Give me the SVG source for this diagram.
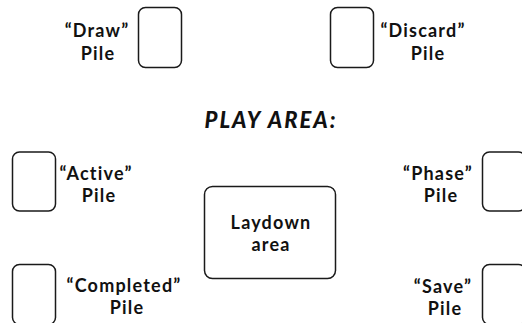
<svg xmlns="http://www.w3.org/2000/svg" width="522" height="323" viewBox="0 0 522 323">
<style>
.card{fill:#fff;stroke:#1a1a1a;stroke-width:1.5}
.lbl{font-family:Lato,"Open Sans",sans-serif;font-weight:700;font-size:18px;letter-spacing:1.2px;fill:#111;text-anchor:middle}
.title{font-family:Lato,"Open Sans",sans-serif;font-weight:900;font-style:italic;font-size:22px;letter-spacing:2px;fill:#111;text-anchor:middle}
</style>
<rect width="522" height="323" fill="#fff"/>
<g id="draw">
<rect class="card" x="138.5" y="7.5" width="43" height="60" rx="7"/>
<text class="lbl" x="97" y="37">“Draw”</text>
<text class="lbl" x="98" y="60">Pile</text>
</g>
<g id="discard">
<rect class="card" x="330.5" y="7.5" width="43" height="60" rx="7"/>
<text class="lbl" x="423" y="37">“Discard”</text>
<text class="lbl" x="428" y="60">Pile</text>
</g>
<g id="play-area">
<text class="title" x="271" y="128">PLAY AREA:</text>
</g>
<g id="active">
<rect class="card" x="12.5" y="152" width="43" height="59" rx="7"/>
<text class="lbl" x="96" y="180">“Active”</text>
<text class="lbl" x="99" y="202">Pile</text>
</g>
<g id="laydown">
<rect class="card" x="204.5" y="186.5" width="131" height="92" rx="8"/>
<text class="lbl" x="271" y="229">Laydown</text>
<text class="lbl" x="271" y="251">area</text>
</g>
<g id="phase">
<rect class="card" x="482.5" y="152" width="43" height="59" rx="7"/>
<text class="lbl" x="438" y="180">“Phase”</text>
<text class="lbl" x="441" y="202">Pile</text>
</g>
<g id="completed">
<rect class="card" x="12.5" y="264.5" width="43" height="60" rx="7"/>
<text class="lbl" x="124" y="292">“Completed”</text>
<text class="lbl" x="127" y="314">Pile</text>
</g>
<g id="save">
<rect class="card" x="482.5" y="264.5" width="43" height="60" rx="7"/>
<text class="lbl" x="443" y="293">“Save”</text>
<text class="lbl" x="445" y="315">Pile</text>
</g>
<g id="connectors"></g>
</svg>
